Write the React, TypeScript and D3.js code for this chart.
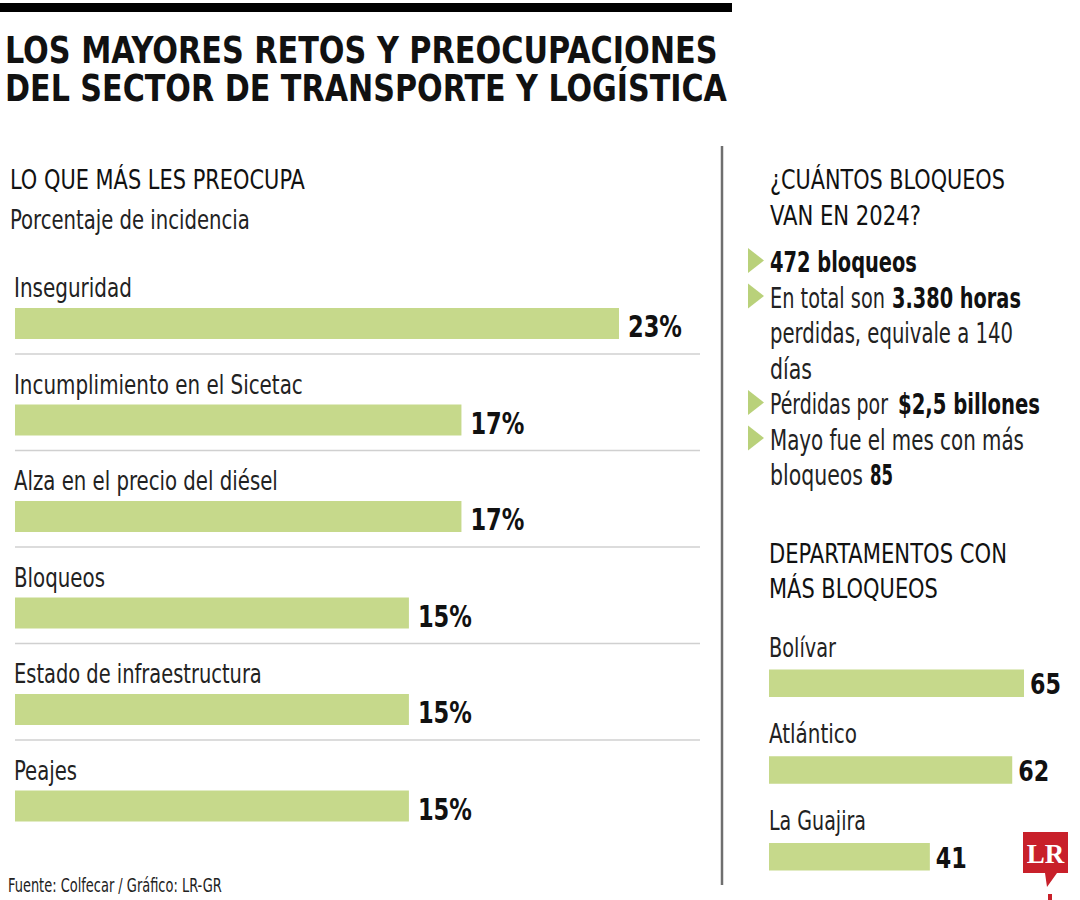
import React, { useEffect, useLayoutEffect, useRef, useState } from "react";
import * as d3 from "d3";

// ---------- data ----------
const titleLines = ["LOS MAYORES RETOS Y PREOCUPACIONES", "DEL SECTOR DE TRANSPORTE Y LOGÍSTICA"];
const leftHeading = "LO QUE MÁS LES PREOCUPA";
const leftSubheading = "Porcentaje de incidencia";
const concernLabels = [
  "Inseguridad",
  "Incumplimiento en el Sicetac",
  "Alza en el precio del diésel",
  "Bloqueos",
  "Estado de infraestructura",
  "Peajes",
];
const concernValues = [23, 17, 17, 15, 15, 15];

const rightHeading = ["¿CUÁNTOS BLOQUEOS", "VAN EN 2024?"];
// each line: [regular part, bold part, bullet?]
const factLines: [string, string, boolean][] = [
  ["", "472 bloqueos", true],
  ["En total son", "3.380 horas", true],
  ["perdidas, equivale a 140", "", false],
  ["días", "", false],
  ["Pérdidas por", "$2,5 billones", true],
  ["Mayo fue el mes con más", "", true],
  ["bloqueos", "85", false],
];
const deptHeading = ["DEPARTAMENTOS CON", "MÁS BLOQUEOS"];
const deptLabels = ["Bolívar", "Atlántico", "La Guajira"];
const deptValues = [65, 62, 41];
const footer = "Fuente: Colfecar / Gráfico: LR-GR";

// ---------- style ----------
const FONT = "'Liberation Sans Narrow', 'DejaVu Sans Condensed', 'Roboto', sans-serif";
const GREEN = "#c6d98b";
const TRI = "#b9d17a";
const SEP = "#d0d0d0";

// rendered text widths (px), to emulate the condensed typeface
const W: Record<string, number> = {
  [titleLines[0]]: 713,
  [titleLines[1]]: 722,
  [leftHeading]: 295,
  [leftSubheading]: 240,
  "Inseguridad": 118,
  "Incumplimiento en el Sicetac": 289,
  "Alza en el precio del diésel": 264,
  "Bloqueos": 91,
  "Estado de infraestructura": 248,
  "Peajes": 63,
  [rightHeading[0]]: 235,
  [rightHeading[1]]: 151,
  "472 bloqueos": 147,
  "En total son": 115,
  "3.380 horas": 129,
  "perdidas, equivale a 140": 243,
  "días": 42,
  "Pérdidas por": 118,
  "$2,5 billones": 142,
  "Mayo fue el mes con más": 254,
  "bloqueos": 93,
  "85": 23,
  [deptHeading[0]]: 238,
  [deptHeading[1]]: 169,
  "Bolívar": 67,
  "Atlántico": 88,
  "La Guajira": 97,
  [footer]: 214,
};
// x start of the bold part in fact lines
const boldStart: Record<string, number> = {
  "472 bloqueos": 770,
  "3.380 horas": 892,
  "$2,5 billones": 898,
  "85": 870,
};

// Text compressed horizontally to a target width (emulates a condensed face)
function T(props: any) {
  const { children, w, x, y, ...rest } = props;
  const target = w ?? W[children as string];
  const ref = useRef<SVGTextElement>(null);
  const [sx, setSx] = useState(1);
  useLayoutEffect(() => {
    if (ref.current && target) {
      const len = ref.current.getComputedTextLength();
      if (len > 0) setSx(target / len);
    }
  }, [children, target]);
  return (
    <text ref={ref} {...rest} transform={`translate(${x},${y}) scale(${sx},1)`}>
      {children}
    </text>
  );
}

export default function App() {
  useEffect(() => {
    document.body.style.margin = "0";
  }, []);

  const xLeft = d3.scaleLinear().domain([0, 23]).range([15, 619]);
  const yLeft = d3.scaleLinear().domain([0, concernLabels.length - 1]).range([308, 790.5]);
  const barHL = 31;

  const xRight = d3.scaleLinear().domain([0, 65]).range([769, 1024]);
  const yRight = d3.scaleLinear().domain([0, deptLabels.length - 1]).range([669.5, 843]);
  const barHR = 27.5;

  const factY = d3.scaleLinear().domain([0, factLines.length - 1]).range([272, 485]);

  return (
    <svg width={1080} height={900} style={{ position: "absolute", left: 0, top: 0, background: "#fff" }} fontFamily={FONT}>
      <rect x={0} y={0} width={1080} height={900} fill="#fff" />
      {/* top bar */}
      <rect x={0} y={3} width={732} height={9} fill="#000" />
      {/* title */}
      <T x={5} y={63} fontSize={38} fontWeight="bold" fill="#111">{titleLines[0]}</T>
      <T x={5} y={101} fontSize={38} fontWeight="bold" fill="#111">{titleLines[1]}</T>

      {/* left panel heading */}
      <T x={10} y={189} fontSize={27} fill="#111">{leftHeading}</T>
      <T x={10} y={229} fontSize={27} fill="#222">{leftSubheading}</T>

      {/* left bars */}
      {concernLabels.map((lab, i) => {
        const y = yLeft(i);
        const v = concernValues[i];
        return (
          <g key={lab}>
            <T x={14} y={y - 11} fontSize={27} fill="#222">{lab}</T>
            <rect x={xLeft(0)} y={y} width={xLeft(v) - xLeft(0)} height={barHL} fill={GREEN} />
            <T x={xLeft(v) + 9} y={y + barHL - 2} fontSize={30} fontWeight="bold" fill="#111" w={54}>
              {`${v}%`}
            </T>
            {i < concernLabels.length - 1 && (
              <line x1={15} x2={700} y1={y + 46} y2={y + 46} stroke={SEP} strokeWidth={1.6} />
            )}
          </g>
        );
      })}

      {/* divider */}
      <line x1={722} x2={722} y1={146} y2={885} stroke="#6f6f6f" strokeWidth={2.5} />

      {/* right heading */}
      <T x={770} y={189} fontSize={27} fill="#111">{rightHeading[0]}</T>
      <T x={770} y={225} fontSize={27} fill="#111">{rightHeading[1]}</T>

      {/* facts */}
      {factLines.map(([reg, bold, bullet], i) => {
        const y = factY(i);
        return (
          <g key={i}>
            {bullet && <path d={`M748,${y - 24} L764,${y - 11.5} L748,${y + 1} Z`} fill={TRI} />}
            {reg && <T x={770} y={y} fontSize={28} fill="#222">{reg}</T>}
            {bold && (
              <T x={boldStart[bold]} y={y} fontSize={28} fontWeight="bold" fill="#111">
                {bold}
              </T>
            )}
          </g>
        );
      })}

      {/* departments heading */}
      <T x={769} y={563} fontSize={27} fill="#111">{deptHeading[0]}</T>
      <T x={769} y={598} fontSize={27} fill="#111">{deptHeading[1]}</T>

      {/* right bars */}
      {deptLabels.map((lab, i) => {
        const y = yRight(i);
        const v = deptValues[i];
        return (
          <g key={lab}>
            <T x={769} y={y - 13} fontSize={27} fill="#222">{lab}</T>
            <rect x={xRight(0)} y={y} width={xRight(v) - xRight(0)} height={barHR} fill={GREEN} />
            <T x={xRight(v) + 6} y={y + barHR - 3} fontSize={29} fontWeight="bold" fill="#111" w={31}>
              {`${v}`}
            </T>
          </g>
        );
      })}

      {/* LR logo */}
      <path d="M1023,832 H1068 V873 H1057 L1047,887 L1045,873 H1023 Z" fill="#c8202a" />
      <text x={1045.5} y={863} fontSize={27} fontWeight="bold" fill="#fff" textAnchor="middle" fontFamily="'Liberation Serif', 'DejaVu Serif', serif">
        LR
      </text>
      <rect x={1048} y={894} width={4} height={6} fill="#c8202a" />

      {/* footer */}
      <T x={8} y={892} fontSize={19} fill="#222">{footer}</T>
    </svg>
  );
}
